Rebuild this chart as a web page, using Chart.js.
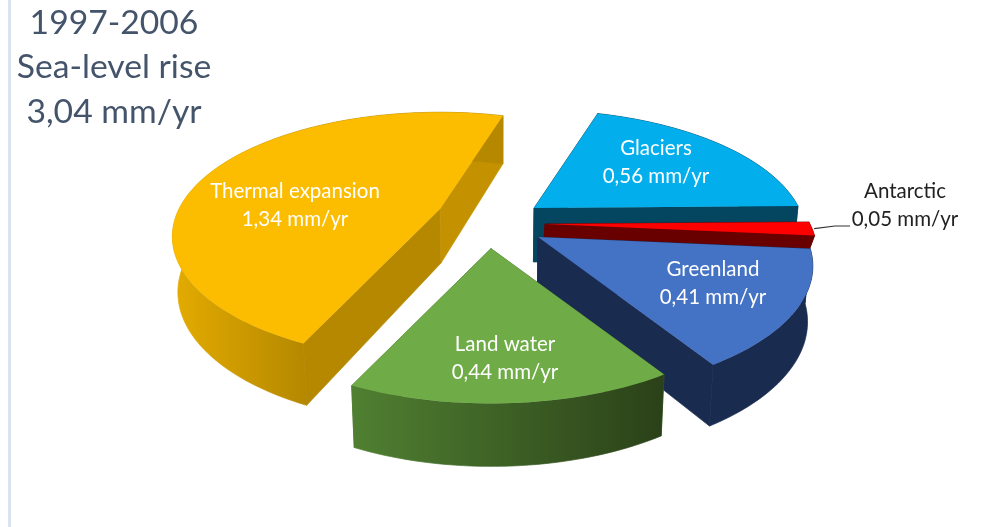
<!DOCTYPE html>
<html>
<head>
<meta charset="utf-8">
<style>
html,body{margin:0;padding:0;background:#fff;overflow:hidden}
#wrap{position:relative;width:998px;height:527px}
#stripe{position:absolute;left:8px;top:0;width:3px;height:527px;background:#dbe3f0}
canvas{position:absolute;left:0;top:0}
</style>
<script src="https://cdn.jsdelivr.net/npm/chart.js@4"></script>
</head>
<body>
<div id="wrap"><div id="stripe"></div><canvas id="c" width="998" height="527"></canvas></div>
<script>
const categories = ['Glaciers','Antarctic','Greenland','Land water','Thermal expansion'];
const values = [0.56,0.05,0.41,0.44,1.34];
const valueLabels = ['0,56 mm/yr','0,05 mm/yr','0,41 mm/yr','0,44 mm/yr','1,34 mm/yr'];
const titleLines = ['1997-2006','Sea-level rise','3,04 mm/yr'];

const topColors = ['#02aeec','#fe0000','#4472c4','#6fac47','#fcbc00'];
const wallColors = ['#04465f','#690000','#1a2b50','#4a7a2e','#c79400'];
const explode = [[35,-55.5],[46,-39.5],[39,-26.5],[-8,-15],[-59,-54.5]];
const sliceScale = [1,1,1.01,1,0.985];
const sliceDepth = [54,14,54,54,54];
const labelAt = [[656,148],[905,191],[713,269],[505,344],[295,191]];

const TILT = 0.453, PERSP = 0.00085, VPX = 500, FONT = 'Lato';

function project(dx, dy){
  const w = 1 - PERSP*dy;
  return [dx/w, TILT*dy/w, w];
}
const pie3d = {
  id:'pie3d',
  beforeDatasetDraw(chart){
    const ctx = chart.ctx;
    const arcs = chart.getDatasetMeta(0).data;
    arcs.forEach((arc,i)=>{
      const {x,y,startAngle,endAngle,outerRadius} = arc;
      const ox = x+explode[i][0], oy = y+explode[i][1];
      const R = outerRadius*sliceScale[i];
      const pts = [[ox,oy,1]];
      const n = Math.max(6,Math.ceil((endAngle-startAngle)*40));
      for(let k=0;k<=n;k++){
        const a = startAngle+(endAngle-startAngle)*k/n;
        const p = project(R*Math.cos(a),R*Math.sin(a));
        pts.push([ox+p[0],oy+p[1],p[2]]);
      }
      const low = pts.map(p=>[p[0]-(p[0]-VPX)*0.017, p[1]+sliceDepth[i]/Math.pow(p[2],0.6)]);
      const last = pts.length-1;
      const wall=(from,to,fill)=>{
        ctx.beginPath();
        for(let k=from;k<=to;k++){ k===from?ctx.moveTo(pts[k][0],pts[k][1]):ctx.lineTo(pts[k][0],pts[k][1]); }
        for(let k=to;k>=from;k--){ ctx.lineTo(low[k][0],low[k][1]); }
        ctx.closePath(); ctx.fillStyle=fill; ctx.strokeStyle=fill; ctx.lineWidth=0.7; ctx.fill(); ctx.stroke();
      };
      const radial=(a,fill)=>{
        ctx.beginPath();
        ctx.moveTo(pts[0][0],pts[0][1]); ctx.lineTo(pts[a][0],pts[a][1]);
        ctx.lineTo(low[a][0],low[a][1]); ctx.lineTo(low[0][0],low[0][1]);
        ctx.closePath(); ctx.fillStyle=fill; ctx.strokeStyle=fill; ctx.lineWidth=0.7; ctx.fill(); ctx.stroke();
      };
      let grad = wallColors[i];
      if(i===3){ grad = ctx.createLinearGradient(355,0,662,0);
        grad.addColorStop(0,'#4f7f31'); grad.addColorStop(1,'#2b4119'); }
      if(i===4){ grad = ctx.createLinearGradient(175,0,305,0);
        grad.addColorStop(0,'#e3ab00'); grad.addColorStop(1,'#b58800'); }
      radial(1,i===4?'#b58800':wallColors[i]);
      radial(last,i===4?'#c49200':wallColors[i]);
      wall(1,last,grad);
      // top face
      ctx.beginPath();
      pts.forEach((p,k)=>k?ctx.lineTo(p[0],p[1]):ctx.moveTo(p[0],p[1]));
      ctx.closePath();
      ctx.fillStyle = arc.options.backgroundColor;
      ctx.fill();
    });
    return false;
  },
  afterDraw(chart){
    const ctx = chart.ctx;
    const arcs = chart.getDatasetMeta(0).data;
    ctx.save();
    // leader line for the Antarctic slice
    const a = arcs[1], mid=(a.startAngle+a.endAngle)/2;
    const p = project(a.outerRadius*Math.cos(mid),a.outerRadius*Math.sin(mid));
    ctx.beginPath();
    ctx.moveTo(a.x+explode[1][0]+p[0]+2,a.y+explode[1][1]+p[1]);
    ctx.lineTo(835,226); ctx.lineTo(850,226);
    ctx.strokeStyle='#333'; ctx.lineWidth=1.2; ctx.stroke();
    // slice labels
    ctx.textAlign='center'; ctx.textBaseline='middle';
    ctx.font='20.5px '+FONT;
    categories.forEach((c,i)=>{
      ctx.fillStyle = i===1 ? '#222222' : '#ffffff';
      ctx.fillText(c,labelAt[i][0],labelAt[i][1]);
      ctx.fillText(valueLabels[i],labelAt[i][0],labelAt[i][1]+28);
    });
    // title block
    ctx.font='33.7px '+FONT; ctx.fillStyle='#44546a';
    titleLines.forEach((t,i)=>ctx.fillText(t,114,23+i*44.5));
    ctx.restore();
  }
};
new Chart(document.getElementById('c'),{
  type:'pie',
  data:{labels:categories,datasets:[{data:values,backgroundColor:topColors,borderWidth:0,clip:false}]},
  options:{
    responsive:false,animation:false,rotation:17,radius:265,
    plugins:{legend:{display:false},title:{display:false},tooltip:{enabled:false}},
    layout:{padding:0}
  },
  plugins:[pie3d]
});
</script>
</body>
</html>
